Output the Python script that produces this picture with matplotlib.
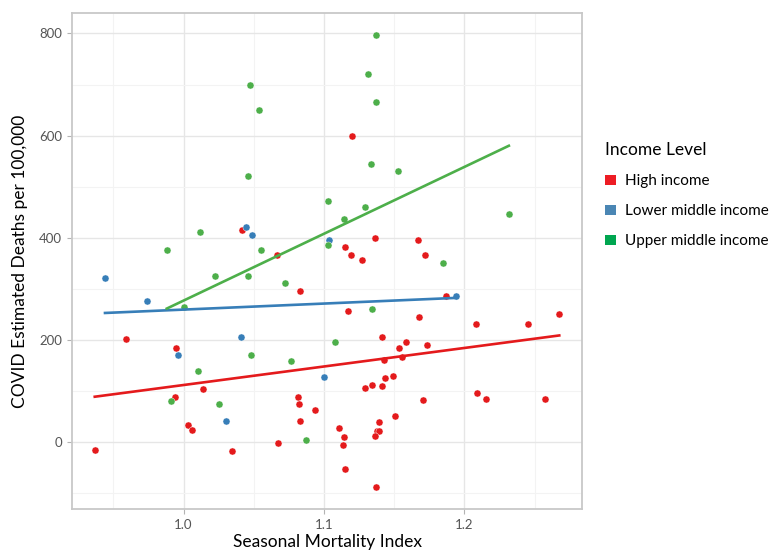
import numpy as np
import matplotlib.pyplot as plt
from matplotlib.patches import Patch
from matplotlib.ticker import MultipleLocator

plt.rcParams['font.family'] = ['Lato', 'DejaVu Sans']

# values
high_x = [1.0419, 1.0664, 1.1198, 1.115, 1.136, 1.1669, 1.1193, 1.1719, 1.1269, 1.0831,
          0.9593, 0.9943, 1.0138, 0.9938, 1.0814, 1.0824, 1.0933, 1.0831, 1.0033, 1.006,
          1.0671, 0.9367, 1.0343, 1.1867, 1.1174, 1.1674, 1.2083, 1.2452, 1.2676, 1.1412,
          1.1531, 1.1586, 1.1733, 1.1557, 1.1424, 1.1495, 1.1433, 1.1343, 1.1412, 1.1293,
          1.2093, 1.2157, 1.2574, 1.1705, 1.1507, 1.111, 1.1395, 1.1143, 1.1138, 1.1376,
          1.1395, 1.1362, 1.1148, 1.1367]
high_y = [415, 366, 600, 381, 400, 396, 366, 366, 356, 296,
          201, 185, 103, 89, 88, 75, 63, 42, 34, 23,
          -1, -16, -18, 286, 256, 245, 231, 231, 250, 205,
          185, 195, 190, 166, 160, 130, 125, 111, 110, 105,
          96, 85, 84, 82, 52, 27, 40, 10, -5, 21,
          21, 12, -53, -87]

lower_x = [0.944, 0.9736, 0.9957, 1.0305, 1.0407, 1.0448, 1.049, 1.1, 1.1033, 1.1943]
lower_y = [321, 276, 170, 42, 205, 421, 405, 128, 396, 286]

upper_x = [1.0474, 1.0536, 1.0457, 1.0119, 0.988, 1.0548, 1.0221, 1.0462, 1.1371, 1.1314,
           1.137, 1.1336, 1.1526, 1.1031, 1.1295, 1.1145, 1.2317, 1.1031, 1.185, 1.0721,
           1.0002, 1.0483, 1.0767, 1.01, 0.9907, 1.0255, 1.0871, 1.1341, 1.1079]
upper_y = [700, 651, 520, 411, 376, 376, 325, 325, 796, 721,
           665, 545, 530, 471, 460, 436, 446, 385, 351, 311,
           265, 171, 159, 139, 80, 74, 4, 260, 196]

groups = ["High income", "Lower middle income", "Upper middle income"]
point_colors = ["#E41A1C", "#377EB8", "#4DAF4A"]
key_colors = ["#ED1C24", "#4A86B4", "#00A650"]

fig = plt.figure(figsize=(7.81, 5.51), dpi=100)
ax = fig.add_axes([0.0922, 0.0762, 0.6530, 0.9002])

data = [(high_x, high_y), (lower_x, lower_y), (upper_x, upper_y)]
for (xs, ys), col in zip(data, point_colors):
    xs = np.array(xs)
    ys = np.array(ys)
    ax.scatter(xs, ys, s=26, color=col, edgecolor="white", linewidth=0.3, zorder=3)
    # linear fit, like geom_smooth(method = "lm", se = FALSE)
    slope, icpt = np.polyfit(xs, ys, 1)
    xl = np.array([xs.min(), xs.max()])
    ax.plot(xl, slope * xl + icpt, color=col, linewidth=1.9, zorder=4)

ax.set_xlim(0.9205, 1.2838)
ax.set_ylim(-131, 840)
ax.xaxis.set_major_locator(MultipleLocator(0.1))
ax.xaxis.set_minor_locator(MultipleLocator(0.05))
ax.yaxis.set_major_locator(MultipleLocator(200))
ax.yaxis.set_minor_locator(MultipleLocator(100))
ax.set_xticks([1.0, 1.1, 1.2])
ax.set_xticklabels(["1.0", "1.1", "1.2"])

ax.grid(True, which="major", color="#E6E6E6", linewidth=1.0)
ax.grid(True, which="minor", color="#F3F3F3", linewidth=0.8)
ax.set_axisbelow(True)
for s in ax.spines.values():
    s.set_color("#C8C8C8")
    s.set_linewidth(1.3)
ax.tick_params(which="major", length=3.5, color="#B3B3B3", labelcolor="#555555", labelsize=9.5)
ax.tick_params(which="minor", length=0)

ax.set_xlabel("Seasonal Mortality Index", fontsize=12.5, labelpad=2)
ax.set_ylabel("COVID Estimated Deaths per 100,000", fontsize=12.5, labelpad=8)

handles = [Patch(facecolor=c, edgecolor="none") for c in key_colors]
leg = fig.legend(handles, groups, title="Income Level", loc="upper left",
                 bbox_to_anchor=(0.757, 0.768), frameon=False, fontsize=11,
                 title_fontsize=12.5, handlelength=0.7, handleheight=0.7,
                 handletextpad=0.6, labelspacing=1.05)
leg._legend_box.align = "left"
leg._legend_box.sep = 12

fig.savefig("out.png", dpi=100)
